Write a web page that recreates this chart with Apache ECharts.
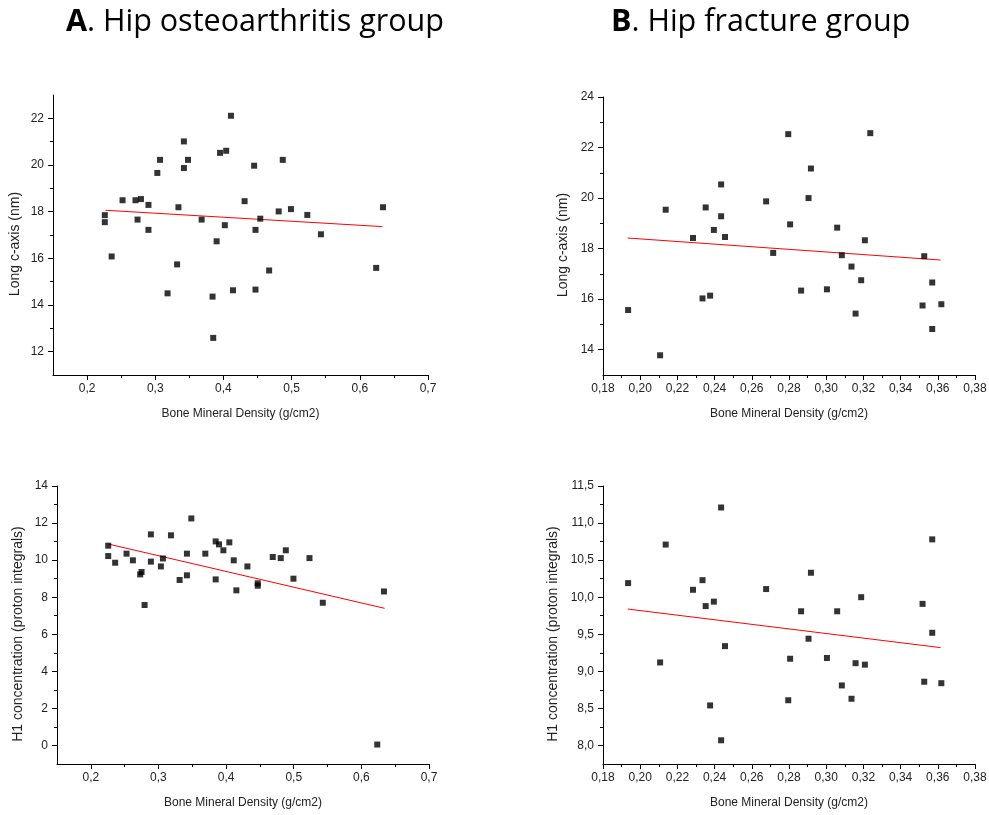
<!DOCTYPE html>
<html><head><meta charset="utf-8">
<script src="https://cdn.jsdelivr.net/npm/echarts@6/dist/echarts.min.js"></script>
<style>html,body{margin:0;padding:0;background:#fff}#c{width:989px;height:815px}</style>
</head><body><div id="c"></div>
<script>
// A. Hip osteoarthritis group — Long c-axis
const aTopX = [0.226,0.226,0.236,0.252,0.271,0.279,0.274,0.290,0.290,0.303,0.307,0.318,0.332,0.334,0.342,0.342,0.348,0.368,0.384,0.385,0.390,0.395,0.404,0.402,0.411,0.414,0.431,0.445,0.447,0.447,0.454,0.467,0.481,0.487,0.499,0.523,0.543,0.624,0.634];
const aTopY = [17.85,17.55,16.08,18.49,18.49,18.54,17.66,18.29,17.22,19.66,20.22,14.50,15.74,18.19,21.01,19.87,20.22,17.66,14.36,12.59,16.73,20.52,20.61,17.42,22.11,14.63,18.45,19.97,17.22,14.66,17.70,15.48,18.01,20.22,18.11,17.86,17.03,15.59,18.19];
const aTopFitX = [0.227,0.633];
const aTopFitY = [18.06,17.36];
// A. Hip osteoarthritis group — H1 concentration
const aBotX = [0.2257,0.2257,0.236,0.2528,0.2622,0.273,0.275,0.2795,0.2888,0.2888,0.3036,0.3066,0.3185,0.3313,0.3421,0.3421,0.3486,0.3693,0.3846,0.3846,0.3895,0.396,0.4048,0.4113,0.4152,0.4315,0.4468,0.4468,0.469,0.4808,0.4883,0.4996,0.5233,0.543,0.6235,0.6334];
const aBotY = [10.78,10.22,9.86,10.35,9.99,9.23,9.36,7.58,11.39,9.92,9.66,10.09,11.34,8.93,10.35,9.18,12.25,10.35,11.01,8.96,10.85,10.53,10.96,9.99,8.37,9.66,8.75,8.62,10.17,10.11,10.53,9.00,10.11,7.70,0.05,8.31];
const aBotFitX = [0.2257,0.6343];
const aBotFitY = [10.87,7.40];
// B. Hip fracture group — Long c-axis
const bTopX = [0.1935,0.2107,0.2137,0.2284,0.2335,0.2352,0.2376,0.2396,0.2435,0.2435,0.2456,0.2677,0.2715,0.2796,0.2806,0.2865,0.2905,0.2918,0.3004,0.3059,0.3084,0.3136,0.3158,0.3188,0.3208,0.3237,0.3518,0.3527,0.3570,0.3570,0.3619];
const bTopY = [15.57,13.78,19.54,18.42,16.03,19.63,16.14,18.74,20.54,19.28,18.46,19.87,17.83,22.53,18.96,16.34,20.00,21.17,16.39,18.83,17.74,17.29,15.43,16.75,18.33,22.57,15.75,17.70,16.66,14.82,15.80];
const bTopFitX = [0.1933,0.3615];
const bTopFitY = [18.42,17.55];
// B. Hip fracture group — H1 concentration
const bBotX = [0.1935,0.2107,0.2137,0.2284,0.2335,0.2352,0.2376,0.2396,0.2435,0.2435,0.2456,0.2677,0.2796,0.2806,0.2865,0.2905,0.2918,0.3004,0.3059,0.3084,0.3136,0.3158,0.3188,0.3208,0.3518,0.3527,0.3570,0.3570,0.3619];
const bBotY = [10.19,9.12,10.71,10.10,10.23,9.88,8.54,9.94,11.21,8.07,9.34,10.11,8.61,9.17,9.81,9.44,10.33,9.18,9.81,8.81,8.63,9.11,10.00,9.09,9.91,8.86,10.78,9.52,8.84];
const bBotFitX = [0.1933,0.3615];
const bBotFitY = [9.84,9.32];

// tick labels (major) and minor tick positions
const aXTicks = [0.2,0.3,0.4,0.5,0.6,0.7];
const aXMinor = [0.25,0.35,0.45,0.55,0.65];
const bXTicks = [0.18,0.20,0.22,0.24,0.26,0.28,0.30,0.32,0.34,0.36,0.38];
const bXMinor = [0.19,0.21,0.23,0.25,0.27,0.29,0.31,0.33,0.35,0.37];
const aTopYTicks = [12,14,16,18,20,22];
const aTopYMinor = [13,15,17,19,21];
const bTopYTicks = [14,16,18,20,22,24];
const bTopYMinor = [15,17,19,21,23];
const aBotYTicks = [0,2,4,6,8,10,12,14];
const aBotYMinor = [1,3,5,7,9,11,13];
const bBotYTicks = [8.0,8.5,9.0,9.5,10.0,10.5,11.0,11.5];
const bBotYMinor = [8.25,8.75,9.25,9.75,10.25,10.75,11.25];

const xName = 'Bone Mineral Density (g/cm2)';
const yNameTop = 'Long c-axis (nm)';
const yNameBot = 'H1 concentration (proton integrals)';

function zip(xs, ys){ return xs.map((x,i)=>[x, ys[i]]); }
function fmt(dec){ return v => Number(v).toFixed(dec).replace('.', ','); }
const FONT = 'Liberation Sans';
function axis(gi, min, max, ticks, dec, name, gap, isY){
  return {
    type:'value', gridIndex:gi, min:min, max:max,
    position: isY ? 'left' : 'bottom', offset:0,
    axisLine:{show:true, onZero:false, lineStyle:{color:'#000', width:1}},
    axisTick:{show:true, inside:false, length:5, customValues:ticks, lineStyle:{color:'#000', width:1}},
    splitLine:{show:false},
    axisLabel:{customValues:ticks, formatter:fmt(dec), fontSize:12, color:'#222', fontFamily:FONT, margin:isY?9:8, showMinLabel:true, showMaxLabel:true},
    name:name, nameLocation:'middle', nameGap:gap,
    nameTextStyle:{fontSize:isY?14:12, color:'#222', fontFamily:FONT, padding:isY?[0,18,0,0]:0}
  };
}
function minorAxis(gi, min, max, ticks, isY){
  return {
    type:'value', gridIndex:gi, min:min, max:max,
    position: isY ? 'left' : 'bottom', offset:0,
    axisLine:{show:false, onZero:false},
    axisTick:{show:true, inside:false, length:3, customValues:ticks, lineStyle:{color:'#000', width:1}},
    axisLabel:{show:false}, splitLine:{show:false}
  };
}
function scatter(gi, xs, ys){
  return {type:'scatter', xAxisIndex:gi, yAxisIndex:gi, data:zip(xs,ys), symbol:'rect', symbolSize:6,
          itemStyle:{color:'#000'}, z:3};
}
function fit(gi, xs, ys){
  return {type:'line', xAxisIndex:gi, yAxisIndex:gi, data:zip(xs,ys), symbol:'none', showSymbol:false,
          lineStyle:{color:'#ff0000', width:1}, z:2};
}
const titleStyle = {fontFamily:'Open Sans', fontSize:30.5, fontWeight:'normal', color:'#000',
  rich:{b:{fontFamily:'Open Sans', fontSize:30.5, fontWeight:'bold', color:'#000'}}};
const chart = echarts.init(document.getElementById('c'), null, {renderer:'canvas'});
chart.setOption({
  animation:false,
  backgroundColor:'#fff',
  title:[
    {text:'{b|A}. Hip osteoarthritis group', left:66, top:7, padding:0, textStyle:titleStyle},
    {text:'{b|B}. Hip fracture group', left:611, top:7, padding:0, textStyle:titleStyle}
  ],
  grid:[
    {left:53, top:95, width:375, height:280, outerBoundsMode:'none'},
    {left:603, top:97, width:372, height:278, outerBoundsMode:'none'},
    {left:57, top:486, width:372, height:278, outerBoundsMode:'none'},
    {left:603, top:486, width:372, height:278, outerBoundsMode:'none'}
  ],
  xAxis:[
    axis(0, 0.15, 0.7, aXTicks, 1, xName, 33, false),
    axis(1, 0.18, 0.38, bXTicks, 2, xName, 33, false),
    axis(2, 0.15, 0.7, aXTicks, 1, xName, 33, false),
    axis(3, 0.18, 0.38, bXTicks, 2, xName, 33, false),
    minorAxis(0, 0.15, 0.7, aXMinor, false),
    minorAxis(1, 0.18, 0.38, bXMinor, false),
    minorAxis(2, 0.15, 0.7, aXMinor, false),
    minorAxis(3, 0.18, 0.38, bXMinor, false)
  ],
  yAxis:[
    axis(0, 11, 23, aTopYTicks, 0, yNameTop, 31, true),
    axis(1, 13, 24, bTopYTicks, 0, yNameTop, 33, true),
    axis(2, -1, 14, aBotYTicks, 0, yNameBot, 32, true),
    axis(3, 7.75, 11.5, bBotYTicks, 1, yNameBot, 43, true),
    minorAxis(0, 11, 23, aTopYMinor, true),
    minorAxis(1, 13, 24, bTopYMinor, true),
    minorAxis(2, -1, 14, aBotYMinor, true),
    minorAxis(3, 7.75, 11.5, bBotYMinor, true)
  ],
  series:[
    fit(0, aTopFitX, aTopFitY), scatter(0, aTopX, aTopY),
    fit(1, bTopFitX, bTopFitY), scatter(1, bTopX, bTopY),
    fit(2, aBotFitX, aBotFitY), scatter(2, aBotX, aBotY),
    fit(3, bBotFitX, bBotFitY), scatter(3, bBotX, bBotY)
  ]
});
</script></body></html>
